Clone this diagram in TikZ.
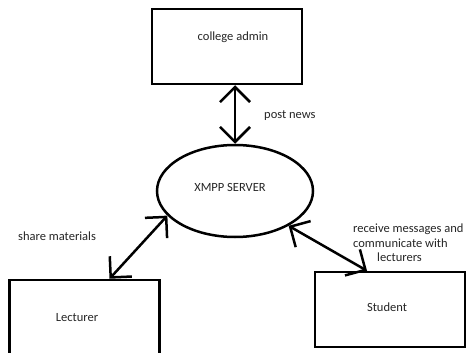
\documentclass[tikz,border=0pt]{standalone}
\usepackage{fontspec}
\setmainfont{Carlito}
\usetikzlibrary{shapes.geometric,arrows.meta}
\tikzset{
	box/.style={draw, line width=2.5pt, minimum width=150pt, minimum height=75pt, inner sep=0pt},
	lbl/.style={font=\fontsize{12.5}{14.5}\selectfont, inner sep=0pt, text=black!85},
	link/.style={line width=2.5pt, {Straight Barb[length=15pt,width=30pt]}-{Straight Barb[length=15pt,width=30pt]}}
}
\begin{document}
\begin{tikzpicture}[x=1pt,y=-1pt]
		\useasboundingbox (0,0) rectangle (466,353);
		\clip (0,0) rectangle (466,353);
		\fill[white] (0,0) rectangle (466,353);

		\node[box] (admin) at (227,46.5) {};
		\node[lbl] (admintext) at (233,37) {college admin};

		\node[draw, ellipse, line width=2.5pt, minimum width=156pt, minimum height=92pt, inner sep=0pt] (server) at (235,191) {};
		\node[lbl] (servertext) at (230,187) {XMPP SERVER};

		\node[box, minimum height=80pt] (lecturer) at (84.5,320) {};
		\node[lbl] (lecturertext) at (77,318) {Lecturer};

		\node[box] (student) at (390,309.5) {};
		\node[lbl] (studenttext) at (387,307) {Student};

		\draw[link] (server.north) -- (server.north |- admin.south);
		\draw[link] (server.200) -- ([xshift=25pt]lecturer.north);
		\draw[link] (server.327) -- ([xshift=-23pt]student.north);

		\node[lbl, anchor=west] (news) at (264,116) {post news};
		\node[lbl, anchor=west] (share) at (18,236) {share materials};
		\node[lbl, anchor=north west, align=left] (receive) at (353,224) {receive messages and\\communicate with\\\hspace*{24pt}lecturers};
	\end{tikzpicture}
\end{document}
